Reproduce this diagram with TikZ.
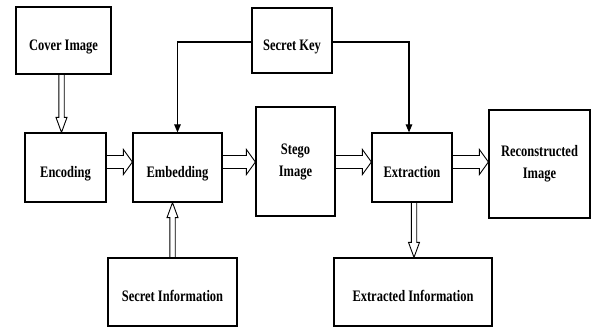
\documentclass[tikz,border=0pt]{standalone}
\usepackage{fontspec}
\setmainfont{Liberation Serif}[FakeStretch=0.78]
\usetikzlibrary{calc,arrows.meta}
\begin{document}
\begin{tikzpicture}[x=1pt,y=-1pt,
  box/.style={draw=black, line width=1.2pt, inner sep=0pt, align=center,
    font=\fontsize{16}{22}\selectfont\bfseries},
  one/.style={text height=19pt, text depth=0pt},
  keyline/.style={line width=1.1pt, -{Triangle[length=8pt,width=6.5pt]}},
  hollowh/.style={line width=0.9pt, to path={
    let \p1=(\tikztostart), \p2=(\tikztotarget) in
    (\x1,\y1+6.5pt) -- (\x2-9pt,\y1+6.5pt) -- (\x2-9pt,\y1+12.5pt) -- (\x2,\y1)
    -- (\x2-9pt,\y1-12.5pt) -- (\x2-9pt,\y1-6.5pt) -- (\x1,\y1-6.5pt)}},
  hollowdown/.style={line width=0.9pt, to path={
    let \p1=(\tikztostart), \p2=(\tikztotarget) in
    (\x1-2.7pt,\y1) -- (\x1-2.7pt,\y2+15pt) -- (\x1-5.5pt,\y2+15pt) -- (\x1,\y2)
    -- (\x1+5.5pt,\y2+15pt) -- (\x1+2.7pt,\y2+15pt) -- (\x1+2.7pt,\y1)}},
  hollowup/.style={line width=0.9pt, to path={
    let \p1=(\tikztostart), \p2=(\tikztotarget) in
    (\x1-2.7pt,\y1) -- (\x1-2.7pt,\y2-15pt) -- (\x1-5.5pt,\y2-15pt) -- (\x1,\y2)
    -- (\x1+5.5pt,\y2-15pt) -- (\x1+2.7pt,\y2-15pt) -- (\x1+2.7pt,\y1)}}
]
\path[use as bounding box, fill=white] (0,0) rectangle (592,327);

\node[box, one, minimum width=95pt, minimum height=67pt] (cover) at (63.5,40.5) {Cover Image};
\node[box, one, minimum width=81pt, minimum height=69pt] (enc) at (65.5,167.5) {Encoding};
\node[box, one, minimum width=89pt, minimum height=69pt] (emb) at (177.5,167.5) {Embedding};
\node[box, one, minimum width=80pt, minimum height=65pt] (skey) at (292,40.5) {Secret Key};
\node[box, minimum width=79pt, minimum height=109pt] (stego) at (295.5,161.5) {Stego\\Image};
\node[box, one, minimum width=80pt, minimum height=69pt] (ext) at (412,167.5) {Extraction};
\node[box, minimum width=101pt, minimum height=108pt] (recon) at (539.5,164) {Reconstructed\\Image};
\node[box, one, minimum width=129pt, minimum height=68pt] (sinfo) at (172.5,292) {Secret Information};
\node[box, one, minimum width=158pt, minimum height=68pt] (xinfo) at (413,292) {Extracted Information};

% secret key lines
\draw[keyline] ([yshift=-1.5pt]skey.west) -| (emb.north);
\draw[keyline] ([yshift=-1.5pt]skey.east) -| ([xshift=-3pt]ext.north);

% hollow arrows
\draw[hollowdown] ([xshift=-2pt]cover.south) to (enc.north);
\draw[hollowh] ([yshift=5.5pt]enc.east) to (emb.west);
\draw[hollowh] ([yshift=5.5pt]emb.east) to (stego.west);
\draw[hollowh] ([yshift=5.5pt]stego.east |- emb.east) to (ext.west);
\draw[hollowh] ([yshift=5.5pt]ext.east) to (recon.west);
\draw[hollowup] (sinfo.north) to (emb.south);
\draw[hollowdown] ([xshift=2pt]ext.south) to (xinfo.north);
\end{tikzpicture}
\end{document}
